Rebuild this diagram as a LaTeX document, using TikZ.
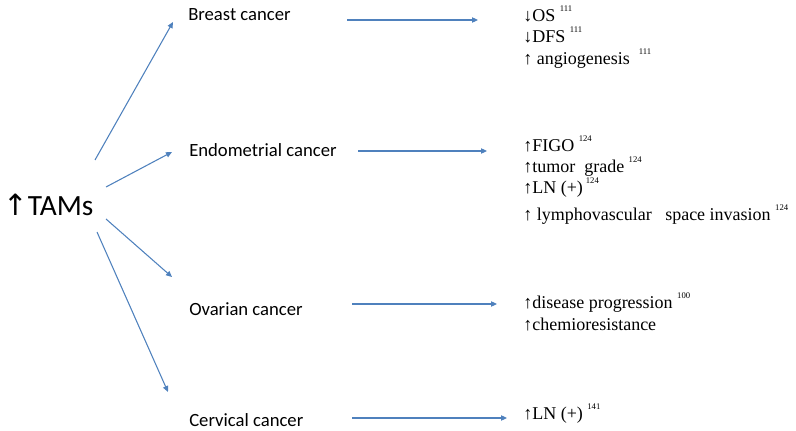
\documentclass[tikz,border=0pt]{standalone}
\usepackage{fontspec}
\setmainfont{Liberation Serif}
\newfontfamily\calibri{Carlito}
\newfontfamily\arrowfont{DejaVu Sans}
\usetikzlibrary{arrows.meta}
\definecolor{linkblue}{RGB}{79,129,189}
\newcommand{\refno}[1]{{\fontsize{6.5}{7}\selectfont\raisebox{7.5pt}{#1}}}

\begin{document}
\begin{tikzpicture}[x=0.75pt, y=-0.75pt,
    site/.style={anchor=base west, inner sep=0pt, font=\calibri\fontsize{14}{16}\selectfont},
    effect/.style={anchor=base west, inner sep=0pt, font=\fontsize{13.5}{16}\selectfont},
    link/.style={draw=linkblue, line width=0.8pt, -{Triangle[length=4.5pt,width=4pt,fill=linkblue]}}]
    \useasboundingbox (0,0) rectangle (796,431);

    % source and cancer sites
    \node[site, font=\calibri\fontsize{22}{24}\selectfont] (tams) at (3,215) {{\arrowfont ↑}TAMs};
    \node[site] (breast) at (188,21) {Breast cancer};
    \node[site] (endo) at (189,157) {Endometrial cancer};
    \node[site] (ovarian) at (189,315) {Ovarian cancer};
    \node[site] (cervical) at (189,426) {Cervical cancer};

    % outcomes
    \node[effect] (os) at (523,22) {↓OS \refno{111}};
    \node[effect] (dfs) at (523,43) {↓DFS \refno{111}};
    \node[effect] (angio) at (523,65) {↑ angiogenesis \ \refno{111}};
    \node[effect] (figo) at (523,152) {↑FIGO \refno{124}};
    \node[effect] (grade) at (523,173) {↑tumor\ \ grade \refno{124}};
    \node[effect] (lnendo) at (523,194) {↑LN (+)\,\refno{124}};
    \node[effect] (lvsi) at (523,220) {↑ lymphovascular\ \ \ space invasion \refno{124}};
    \node[effect] (progress) at (523,308) {↑disease progression \refno{100}};
    \node[effect] (chemo) at (523,330) {↑chemioresistance};
    \node[effect] (lncerv) at (523,419) {↑LN (+) \refno{141}};

    % arrow ends
    \coordinate (t1) at (95,160);  \coordinate (s1) at (173,22);
    \coordinate (t2) at (106,187); \coordinate (s2) at (172,152);
    \coordinate (t3) at (106,219); \coordinate (s3) at (172,277);
    \coordinate (t4) at (97,232);  \coordinate (s4) at (168,392);
    \coordinate (b0) at (347,20);  \coordinate (b1) at (478,20);
    \coordinate (e0) at (358,151); \coordinate (e1) at (487,151);
    \coordinate (o0) at (352,304); \coordinate (o1) at (497,304);
    \coordinate (c0) at (352,418); \coordinate (c1) at (507,418);

    \draw[link] (t1) -- (s1);
    \draw[link] (t2) -- (s2);
    \draw[link] (t3) -- (s3);
    \draw[link] (t4) -- (s4);

    \draw[link] (b0) -- (b1);
    \draw[link] (e0) -- (e1);
    \draw[link] (o0) -- (o1);
    \draw[link] (c0) -- (c1);
\end{tikzpicture}
\end{document}
